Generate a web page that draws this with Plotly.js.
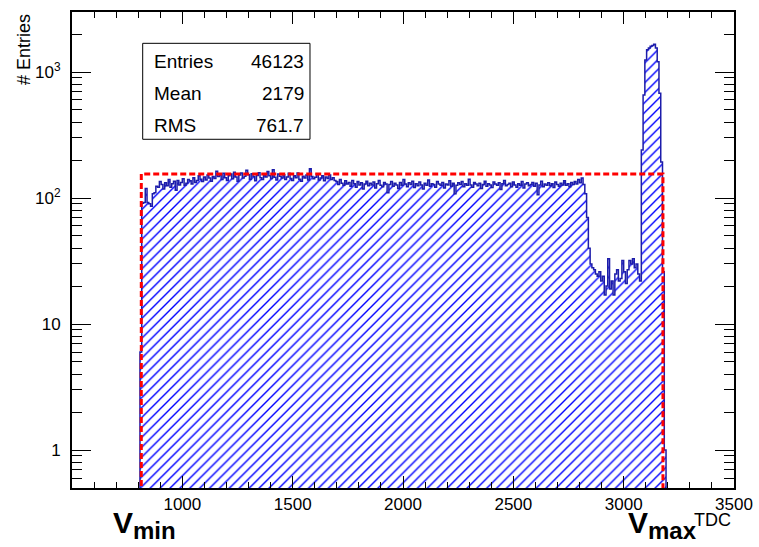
<!DOCTYPE html>
<html>
<head>
<meta charset="utf-8">
<script src="https://cdn.plot.ly/plotly-3.0.1.min.js"></script>
<style>
  html, body { margin: 0; padding: 0; background: #ffffff; }
  #chart { width: 759px; height: 547px; }
</style>
</head>
<body>
<div id="chart"></div>
<script>
// ---- data ----
var binStart = 800;
var binWidth = 8;
var counts = [
  // 800 - 896
  0,6,91,92,119,92,90,86,108,110,124,122,135,
  // 904 - 1144
  128,118,132,125,140,122,130,136,115,138,127,133,142,126,131,140,137,129,145,133,138,150,141,135,147,139,152,144,136,148,143,
  // 1152 - 1688
  163,148,152,140,157,145,138,150,155,142,
  160,147,136,152,158,144,149,166,153,141,
  156,148,137,151,159,145,140,154,147,162,
  150,143,168,146,139,155,149,144,153,140,
  147,157,143,138,150,145,158,141,136,149,
  144,152,139,171,148,142,146,155,139,144,
  150,137,147,143,152,140,145,138,
  // 1696 - 2792
  135,128,140,131,126,137,129,133,124,138,
  130,122,135,127,132,118,129,136,125,131,
  127,134,120,130,138,126,123,133,129,110,
  128,135,124,131,127,119,133,126,140,129,
  123,132,128,136,121,130,125,134,127,118,
  131,126,139,124,130,128,122,135,129,126,
  133,120,129,127,137,124,131,108,126,132,
  128,135,123,130,126,141,127,122,133,129,
  125,131,119,128,136,124,130,127,121,134,
  129,126,132,117,130,138,125,128,131,123,
  134,127,122,130,126,135,120,129,132,125,
  128,133,124,131,106,127,136,123,129,126,
  132,125,130,121,134,128,124,131,127,137,
  126,130,123,133,128,135,129,140,
  // 2800 - 2856
  132,144,128,108,70,40,30,28,
  // 2864 - 3072
  27,25,24,26,22,24,17,20,33,19,22,17,25,27,22,23,32,26,21,27,32,30,33,28,30,25,22,
  // 3080 - 3192
  240,656,1245,1500,1550,1600,1620,1660,1550,1207,677,193,26,1,0
];
var vMin = 814;
var vMax = 3178;
var windowHeight = 155;
var statNames = ["Entries", "Mean", "RMS"];
var statValues = ["46123", "2179", "761.7"];
var xTickVals = [1000, 1500, 2000, 2500, 3000, 3500];
var xTickText = ["1000", "1500", "2000", "2500", "3000", "3500"];
var yTickVals = [1, 10, 100, 1000];
var yTickText = ["1", "10", "10<sup>2</sup>", "10<sup>3</sup>"];

// ---- build step outline ----
var floorVal = 0.01; // below visible range, for empty bins on log axis
var xs = [], ys = [];
for (var i = 0; i < counts.length; i++) {
  xs.push(binStart + i * binWidth);
  ys.push(counts[i] > 0 ? counts[i] : floorVal);
}
xs.push(binStart + counts.length * binWidth);
ys.push(ys[ys.length - 1]);

var minorVals = [];
for (var k = -1; k <= 3; k++) {
  for (var m = 2; m <= 9; m++) minorVals.push(m * Math.pow(10, k));
}

var FONT = "Liberation Sans, Arial, Helvetica, sans-serif";

var traces = [
  {
    type: "scatter", mode: "lines",
    x: xs, y: ys,
    line: { shape: "hv", color: "#1c1caa", width: 1.5 },
    fill: "tozeroy",
    fillcolor: "rgba(255,255,255,0)",
    fillpattern: { shape: "/", size: 7, solidity: 0.2, fgcolor: "#0000ff", bgcolor: "rgba(255,255,255,0)" },
    hoverinfo: "skip"
  },
  {
    type: "scatter", mode: "lines",
    x: [vMin, vMin, vMax, vMax],
    y: [floorVal, windowHeight, windowHeight, floorVal],
    line: { color: "#ff0000", width: 3, dash: "6px,3px" },
    hoverinfo: "skip"
  }
];

var annotations = [
  { text: "# Entries", xref: "paper", yref: "paper", x: -0.0725, y: 0.92, textangle: -90,
    showarrow: false, xanchor: "center", yanchor: "middle", font: { family: FONT, size: 18, color: "#000" } },
  { text: "<b>V<sub><span style='font-size:24px'>min</span></sub></b>", xref: "paper", yref: "paper", x: 0.059, y: -0.078,
    showarrow: false, xanchor: "left", yanchor: "middle", font: { family: FONT, size: 30, color: "#000" } },
  { text: "<b>V<sub><span style='font-size:24px'>max</span></sub></b>", xref: "paper", yref: "paper", x: 0.837, y: -0.078,
    showarrow: false, xanchor: "left", yanchor: "middle", font: { family: FONT, size: 30, color: "#000" } },
  { text: "TDC", xref: "paper", yref: "paper", x: 0.9985, y: -0.067,
    showarrow: false, xanchor: "right", yanchor: "middle", font: { family: FONT, size: 18, color: "#000" } }
];
var rowY = [0.897, 0.829, 0.7626];
for (var r = 0; r < statNames.length; r++) {
  annotations.push({ text: statNames[r], xref: "paper", yref: "paper", x: 0.1207, y: rowY[r],
    showarrow: false, xanchor: "left", yanchor: "middle", font: { family: FONT, size: 19, color: "#000" } });
  annotations.push({ text: statValues[r], xref: "paper", yref: "paper", x: 0.3535, y: rowY[r],
    showarrow: false, xanchor: "right", yanchor: "middle", font: { family: FONT, size: 19, color: "#000" } });
}

var layout = {
  width: 759, height: 547,
  margin: { l: 72, r: 25, t: 12, b: 59 },
  paper_bgcolor: "#ffffff", plot_bgcolor: "#ffffff",
  showlegend: false,
  font: { family: FONT, size: 17, color: "#000" },
  xaxis: {
    range: [500, 3500],
    tickmode: "array", tickvals: xTickVals, ticktext: xTickText,
    ticks: "inside", ticklen: 12, tickwidth: 1, tickcolor: "#000",
    showline: true, linecolor: "#000", linewidth: 2, mirror: "ticks",
    showgrid: false, zeroline: false,
    tickfont: { family: FONT, size: 17, color: "#000" },
    minor: { dtick: 100, tick0: 0, ticks: "inside", ticklen: 6, tickwidth: 1, tickcolor: "#000", showgrid: false }
  },
  yaxis: {
    type: "log", range: [Math.log10(0.5), Math.log10(2993)],
    tickmode: "array", tickvals: yTickVals, ticktext: yTickText,
    ticks: "inside", ticklen: 19, tickwidth: 1, tickcolor: "#000",
    showline: true, linecolor: "#000", linewidth: 2, mirror: "ticks",
    showgrid: false, zeroline: false,
    ticklabelstandoff: 6,
    tickfont: { family: FONT, size: 17, color: "#000" },
    minor: { tickmode: "array", tickvals: minorVals, ticks: "inside", ticklen: 10, tickwidth: 1, tickcolor: "#000", showgrid: false }
  },
  shapes: [
    { type: "rect", xref: "paper", yref: "paper", x0: 0.1068, x1: 0.3595, y0: 0.7326, y1: 0.9342,
      line: { color: "#000", width: 1 }, fillcolor: "#ffffff", layer: "above" }
  ],
  annotations: annotations
};

Plotly.newPlot("chart", traces, layout, { displayModeBar: false, staticPlot: true });
</script>
</body>
</html>
